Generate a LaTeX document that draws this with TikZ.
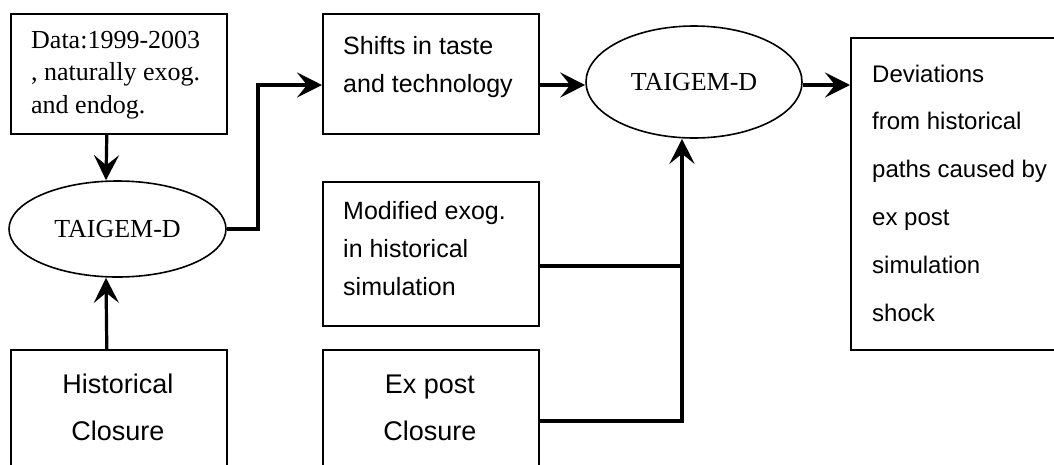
\documentclass[tikz,border=0pt]{standalone}
\usepackage{fontspec}
\setmainfont{Liberation Serif}
\setsansfont{Liberation Sans}
\usetikzlibrary{arrows.meta,shapes.geometric}
\newcommand\mylines[2]{\begin{tabular}[t]{@{}#1@{}}#2\end{tabular}}
\begin{document}
\begin{tikzpicture}[x=1pt,y=-1pt,
  box/.style={draw, line width=1.6pt, rectangle, inner sep=0pt, anchor=north west},
  oval/.style={draw, line width=1.6pt, ellipse, inner sep=0pt, font=\fontsize{26}{30}\selectfont},
  conn/.style={line width=3.2pt},
  arr/.style={conn, -{Stealth[length=25pt,width=25pt,inset=10pt]}},
  serif/.style={inner sep=0pt, font=\fontsize{26}{32.5}\selectfont},
  sans/.style={inner sep=0pt, font=\sffamily\fontsize{25}{38}\selectfont},
  bigsans/.style={inner sep=0pt, font=\sffamily\fontsize{27}{47}\selectfont}]
\clip (0,0) rectangle (1054,464);
\fill[white] (0,0) rectangle (1054,464);
% boxes
\node[box, minimum width=216pt, minimum height=120pt] (data) at (10,13) {};
\node[box, minimum width=216pt, minimum height=140pt] (hist) at (10,349) {};
\node[box, minimum width=216pt, minimum height=120pt] (shifts) at (322,13) {};
\node[box, minimum width=216pt, minimum height=144pt] (mod) at (322,181) {};
\node[box, minimum width=216pt, minimum height=140pt] (expost) at (322,349) {};
\node[box, minimum width=240pt, minimum height=312pt] (dev) at (850,37) {};
\node[oval, minimum width=217pt, minimum height=96pt] (e1) at (117.5,229) {TAIGEM-D};
\node[oval, minimum width=216pt, minimum height=112pt] (e2) at (694,82) {TAIGEM-D};
% texts
\node[serif, anchor=base west] (dataT) at (31,48) {\mylines{l}{Data:1999-2003\\, naturally exog.\\and endog.}};
\node[sans, anchor=base west] (shiftsT) at (343,54) {\mylines{l}{Shifts in taste\\and technology}};
\node[sans, anchor=base west] (modT) at (343,219) {\mylines{l}{Modified exog.\\in historical\\simulation}};
\node[bigsans, anchor=base] (histT) at (118,393) {\mylines{c}{Historical\\Closure}};
\node[bigsans, anchor=base] (expostT) at (430,393) {\mylines{c}{Ex post\\Closure}};
\node[sans, anchor=base west, font=\sffamily\fontsize{24}{47.8}\selectfont] (devT) at (872,82) {\mylines{l}{Deviations\\from historical\\paths caused by\\ex post\\simulation\\shock}};
% junctions
\coordinate (j1) at (258,85);
\coordinate (j2) at (682,266);
\coordinate (j3) at (682,421);
% connectors
\draw[arr] ([xshift=-12pt]data.south) -- ([xshift=-11.5pt]e1.north);
\draw[arr] ([xshift=-12pt]hist.north) -- ([xshift=-11.5pt]e1.south);
\draw[arr] (e1.east) -| (j1) -- (j1 -| shifts.west);
\draw[arr] (shifts.east |- j1) -- (e2.west |- j1);
\draw[arr] (e2.east |- j1) -- (dev.west |- j1);
\draw[conn] (mod.east |- j2) -- (j2);
\draw[arr] (expost.east |- j3) -- (j3) -- (e2.south -| j3);
\end{tikzpicture}
\end{document}
